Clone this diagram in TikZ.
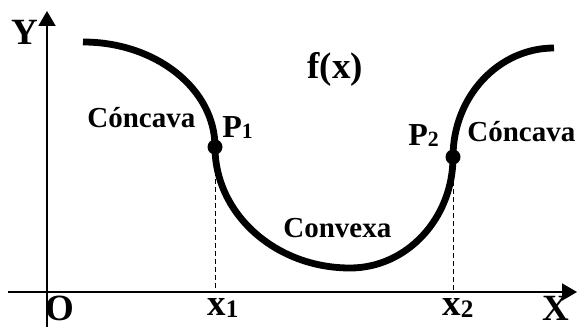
\documentclass[tikz,border=0pt]{standalone}
\usepackage{fontspec}
\setmainfont{Liberation Serif}
\usetikzlibrary{arrows.meta}
\newcommand{\idx}[1]{\raisebox{-0.12ex}{\scalebox{0.68}{#1}}}

\begin{document}
\begin{tikzpicture}[x=0.5pt, y=0.5pt,
    axis/.style={line width=1pt, -{Triangle[length=7.5pt,width=8.5pt]}},
    curve/.style={line width=3.4pt},
    guide/.style={dash pattern=on 2.5pt off 1.5pt, line width=0.5pt},
    dot/.style={circle, fill, inner sep=0pt, minimum size=7.5pt},
    lbl/.style={inner sep=0pt, font=\bfseries\fontsize{14.5}{16}\selectfont},
    plbl/.style={inner sep=0pt, font=\bfseries\fontsize{16}{18}\selectfont},
    big/.style={inner sep=0pt, font=\bfseries\fontsize{18.5}{20}\selectfont}
]
\useasboundingbox (0,0) rectangle (577,327);

% axes
\coordinate (xl) at (8,35);
\coordinate (xr) at (577,35);
\coordinate (yb) at (47,0);
\coordinate (yt) at (47,316);
\draw[axis] (xl) -- (xr);
\draw[axis] (yb) -- (yt);

\node[big, anchor=base] (ylab) at (25,282) {Y};
\node[big, anchor=base] (olab) at (60,7) {O};
\node[big, anchor=base] (xlab) at (556,7) {X};

% curve f(x)
\coordinate (s) at (83,285);
\draw[curve] (s)
    arc[start angle=90, end angle=0, x radius=132, y radius=105]
    arc[start angle=180, end angle=270, x radius=135, y radius=121]
    arc[start angle=270, end angle=360, x radius=103, y radius=111]
    arc[start angle=180, end angle=90, x radius=101, y radius=109];

% inflection points
\node[dot] (p1) at (215,180) {};
\node[dot] (p2) at (453,170) {};
\coordinate (f1) at (215,35);
\coordinate (f2) at (453,35);
\draw[guide] (p1) -- (f1);
\draw[guide] (p2) -- (f2);

\node[plbl, anchor=base west] (p1lab) at (222,190) {P\idx{1}};
\node[plbl, anchor=base west] (p2lab) at (408,182) {P\idx{2}};
\node[big, anchor=base west] (x1lab) at (207,12) {x\idx{1}};
\node[big, anchor=base west] (x2lab) at (442,12) {x\idx{2}};

\node[lbl, anchor=base west] (cc1) at (87,199) {Cóncava};
\node[lbl, anchor=base west] (cc2) at (467,185) {Cóncava};
\node[lbl, anchor=base west] (cvx) at (283,90) {Convexa};
\node[big, anchor=base west] (fx) at (307,248) {f(x)};
\end{tikzpicture}
\end{document}
